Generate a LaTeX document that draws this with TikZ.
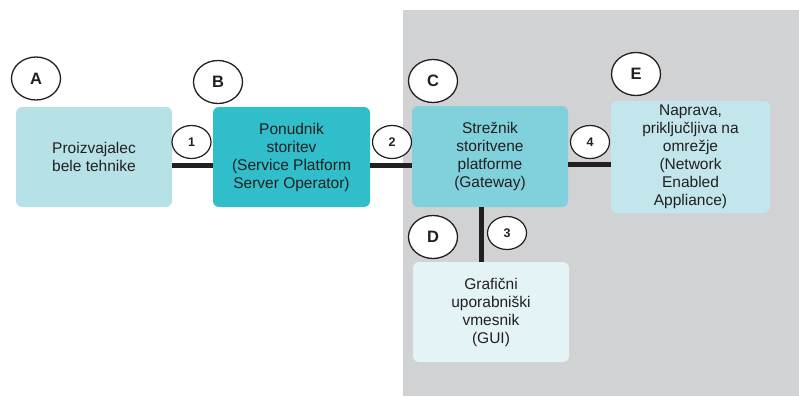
\documentclass[tikz,border=0pt]{standalone}
\usepackage{fontspec}
\setmainfont{Liberation Sans}
\usetikzlibrary{shapes.geometric}
\definecolor{gbg}{HTML}{D1D2D4}
\definecolor{cA}{HTML}{B5E1E7}
\definecolor{cB}{HTML}{30BECB}
\definecolor{cC}{HTML}{80D1DB}
\definecolor{cE}{HTML}{C2E6EC}
\definecolor{cD}{HTML}{E3F3F6}
\definecolor{txt}{HTML}{231F20}
\tikzset{
  box/.style={rounded corners=6pt, inner sep=0pt, align=center, text=txt,
    font=\fontsize{15.5}{18}\selectfont},
  letter/.style={ellipse, draw=txt, line width=1.3pt, fill=white, minimum width=49pt,
    minimum height=43pt, inner sep=0pt, font=\fontsize{16.5}{16}\selectfont\bfseries, text=txt},
  num/.style={ellipse, draw=txt, line width=1.2pt, fill=white, minimum width=39pt,
    minimum height=33pt, inner sep=0pt, font=\fontsize{12.5}{12}\selectfont\bfseries, text=txt},
  conn/.style={line width=5pt, draw=txt}
}
\begin{document}
\begin{tikzpicture}[x=1pt,y=-1pt]
\useasboundingbox (0,0) rectangle (799,396);
\fill[gbg] (403,10) rectangle (799,396);
% boxes
\node[box, fill=cA, minimum width=156pt, minimum height=100pt] (A) at (94,157) {Proizvajalec\\bele tehnike};
\node[box, fill=cB, minimum width=157pt, minimum height=100pt] (B) at (291.5,157) {Ponudnik\\storitev\\(Service Platform\\Server Operator)};
\node[box, fill=cC, minimum width=156pt, minimum height=101pt] (C) at (490,156.5) {Strežnik\\storitvene\\platforme\\(Gateway)};
\node[box, fill=cE, minimum width=159pt, minimum height=112pt] (E) at (690.5,157) {Naprava,\\priključljiva na\\omrežje\\(Network\\Enabled\\Appliance)};
\node[box, fill=cD, minimum width=156pt, minimum height=100pt] (D) at (491,312) {Grafični\\uporabniški\\vmesnik\\(GUI)};
% connectors
\draw[conn] (A.east |- 0,165.5) -- (B.west |- 0,165.5);
\draw[conn] (B.east |- 0,165.5) -- (C.west |- 0,165.5);
\draw[conn] (C.east |- 0,164.5) -- (E.west |- 0,164.5);
\draw[conn] (C.south -| 481.5,0) -- (D.north -| 481.5,0);
% letter labels
\node[letter] (LA) at (36,78.5) {A};
\node[letter] (LB) at (218,82) {B};
\node[letter] (LC) at (433,81) {C};
\node[letter] (LE) at (636,74) {E};
\node[letter] (LD) at (433,237) {D};
% numbers
\node[num] (n1) at (191.5,142) {1};
\node[num] (n2) at (392,142) {2};
\node[num] (n4) at (590,142) {4};
\node[num] (n3) at (507,233) {3};
\end{tikzpicture}
\end{document}
